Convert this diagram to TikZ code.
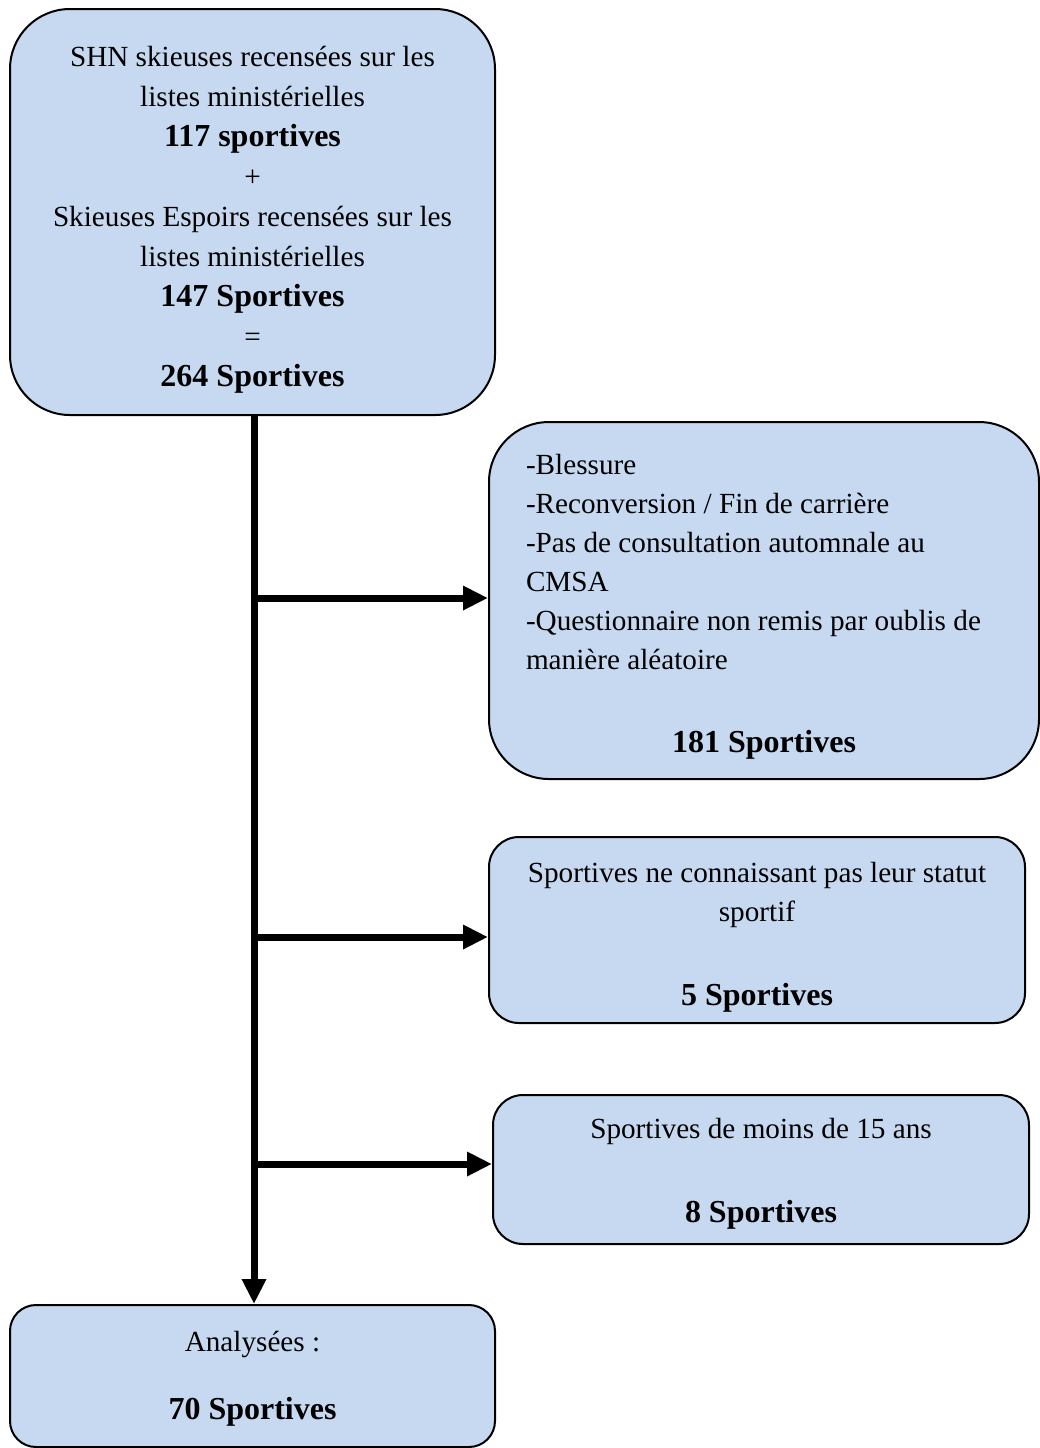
\documentclass[tikz,border=0pt]{standalone}
\usepackage{fontspec}
\setmainfont{Liberation Serif}
\usetikzlibrary{arrows.meta}
\definecolor{boxblue}{RGB}{198,217,240}
\newcommand\effectif[1]{{\fontsize{16}{20}\selectfont\bfseries #1}}
\newcommand\haut[1]{\rule{0pt}{#1}}

\begin{document}
\begin{tikzpicture}
  [x=0.5pt,y=-0.5pt,
   etape/.style={draw,line width=1pt,fill=boxblue,align=center,inner sep=0pt,
     font=\fontsize{14.6}{19.5}\selectfont},
   fleche/.style={line width=3.5pt,-{Triangle[length=12.5pt,width=11.5pt]}}]
  \useasboundingbox (0,0) rectangle (1040,1448);

  \node[etape,rounded corners=30pt,minimum width=242.5pt,minimum height=203pt,
        font=\fontsize{14.6}{20}\selectfont] (n0) at (252.5,212)
    {\haut{18pt}SHN skieuses recensées sur les\\listes ministérielles\\\effectif{117 sportives}\\+\\
     Skieuses Espoirs recensées sur les\\listes ministérielles\\\effectif{147 Sportives}\\=\\
     \effectif{264 Sportives}};
  \node[etape,rounded corners=30pt,minimum width=275pt,minimum height=178.5pt,text width=238pt,
        align=flush left] (n1) at (764,600.5)
    {\haut{16pt}-Blessure\\-Reconversion / Fin de carrière\\-Pas de consultation automnale au\\CMSA\\
     -Questionnaire non remis par oublis de\\manière aléatoire\\[22pt]
     \makebox[\linewidth]{\effectif{181 Sportives}}};
  \node[etape,rounded corners=15pt,minimum width=268pt,minimum height=93pt] (n2) at (757,930)
    {\haut{17pt}Sportives ne connaissant pas leur statut\\sportif\\[22.5pt]\effectif{5 Sportives}};
  \node[etape,rounded corners=15pt,minimum width=268pt,minimum height=74.5pt] (n3) at (761,1169.5)
    {\haut{14pt}Sportives de moins de 15 ans\\[22.5pt]\effectif{8 Sportives}};
  \node[etape,rounded corners=13pt,minimum width=242.5pt,minimum height=71pt] (n4) at (252.5,1376)
    {\haut{12.5pt}Analysées :\\[14.5pt]\effectif{70 Sportives}};

  \coordinate (j1) at (254,598);
  \coordinate (j2) at (254,937);
  \coordinate (j3) at (254,1164);

  \draw[fleche] (n0.south -| j1) -- (n4.north -| j1);
  \foreach \from/\to in {j1/n1,j2/n2,j3/n3}
    \draw[fleche] (\from) -- (\from -| \to.west);

\end{tikzpicture}
\end{document}
